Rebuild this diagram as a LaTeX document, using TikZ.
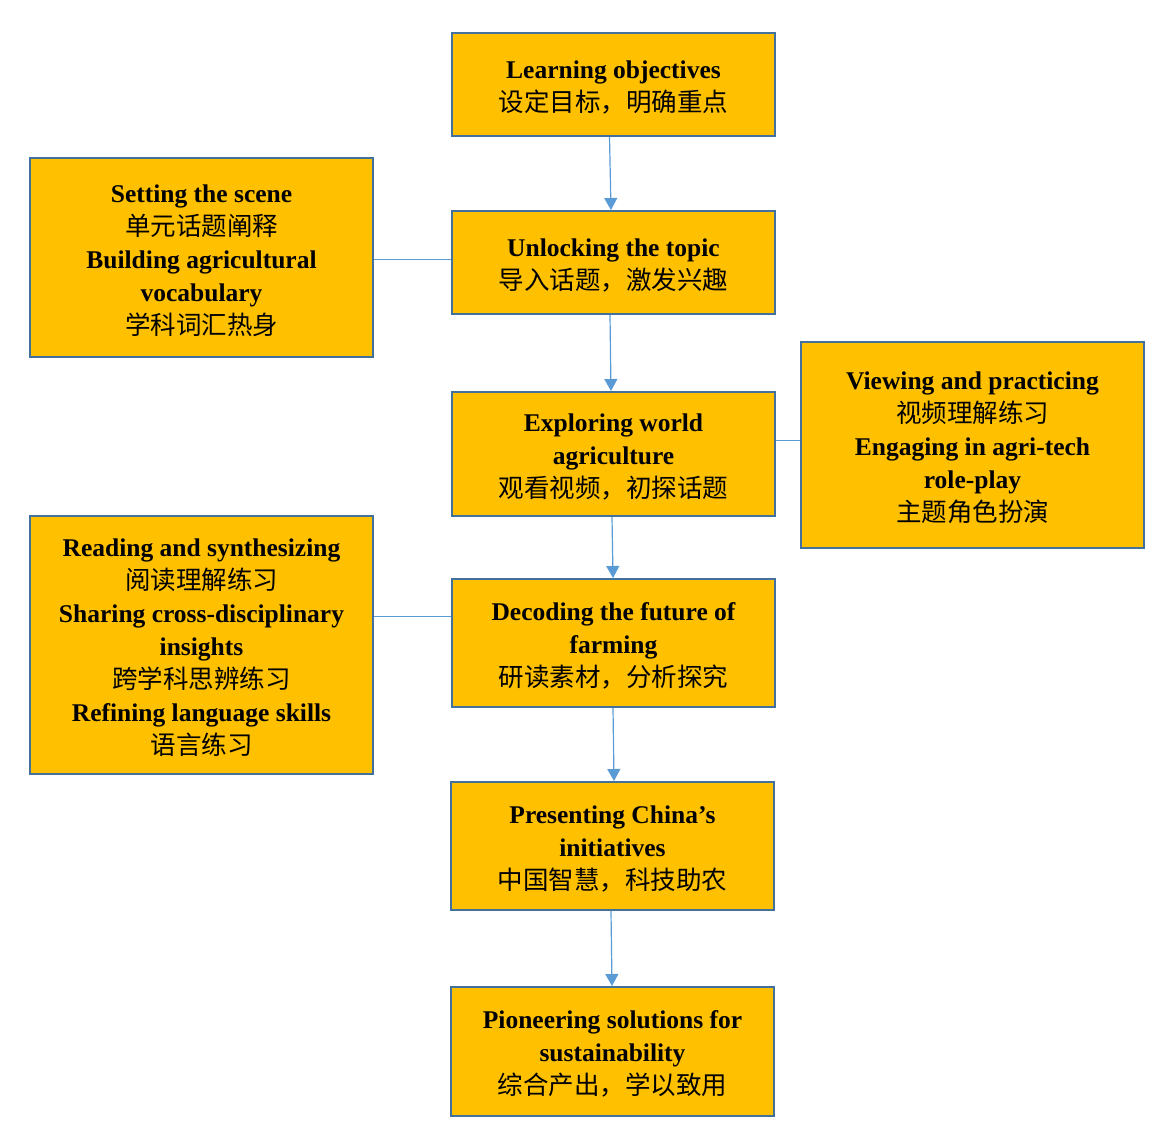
\documentclass[tikz,border=0pt]{standalone}
\usepackage{fontspec}
\setmainfont{Liberation Serif}
\newfontfamily\cjk{Noto Sans CJK SC}
\usetikzlibrary{arrows.meta}
\definecolor{boxfill}{HTML}{FFC000}
\definecolor{boxline}{HTML}{41719C}
\definecolor{conn}{HTML}{5B9BD5}
\newcommand{\en}[1]{{\bfseries #1}}
\newcommand{\enf}[1]{{\bfseries\rule{0pt}{23.5pt}#1}}
\newcommand{\zh}[1]{{\cjk\fontsize{25.5}{33}\selectfont #1}}
\tikzset{
  box/.style={draw=boxline, fill=boxfill, line width=2pt, align=center, inner sep=0pt,
    font=\fontsize{25.5}{33}\selectfont},
  arr/.style={draw=conn, line width=1.2pt, -{Triangle[width=13pt,length=12pt]}},
  link/.style={draw=conn, line width=1pt}
}
\begin{document}
\begin{tikzpicture}[x=1pt,y=-1pt]
\useasboundingbox (0,0) rectangle (1172,1144);
\node[box, minimum width=323pt, minimum height=103pt] (lo) at (613.5,84.5)
  {\enf{Learning objectives}\\\zh{设定目标，明确重点}};
\node[box, minimum width=343pt, minimum height=199pt] (ss) at (201.5,257.5)
  {\enf{Setting the scene}\\\zh{单元话题阐释}\\\en{Building agricultural}\\\en{vocabulary}\\\zh{学科词汇热身}};
\node[box, minimum width=323pt, minimum height=103pt] (ut) at (613.5,262.5)
  {\enf{Unlocking the topic}\\\zh{导入话题，激发兴趣}};
\node[box, minimum width=343pt, minimum height=206pt] (vp) at (972.5,445)
  {\enf{Viewing and practicing}\\\zh{视频理解练习}\\\en{Engaging in agri-tech}\\\en{role-play}\\\zh{主题角色扮演}};
\node[box, minimum width=323pt, minimum height=124pt] (ew) at (613.5,454)
  {\enf{Exploring world}\\\en{agriculture}\\\zh{观看视频，初探话题}};
\node[box, minimum width=343pt, minimum height=258pt] (rs) at (201.5,645)
  {\enf{Reading and synthesizing}\\\zh{阅读理解练习}\\\en{Sharing cross-disciplinary}\\\en{insights}\\\zh{跨学科思辨练习}\\\en{Refining language skills}\\\zh{语言练习}};
\node[box, minimum width=323pt, minimum height=128pt] (df) at (613.5,643)
  {\enf{Decoding the future of}\\\en{farming}\\\zh{研读素材，分析探究}};
\node[box, minimum width=323pt, minimum height=128pt] (pc) at (612.5,846)
  {\enf{Presenting China’s}\\\en{initiatives}\\\zh{中国智慧，科技助农}};
\node[box, minimum width=323pt, minimum height=129pt] (ps) at (612.5,1051.5)
  {\enf{Pioneering solutions for}\\\en{sustainability}\\\zh{综合产出，学以致用}};
% arrows
\draw[arr] ([xshift=-4pt]lo.south) -- ([xshift=-2.5pt]ut.north);
\draw[arr] ([xshift=-3.5pt]ut.south) -- ([xshift=-2.5pt]ew.north);
\draw[arr] ([xshift=-1.5pt]ew.south) -- ([xshift=-0.5pt]df.north);
\draw[arr] ([xshift=-0.5pt]df.south) -- ([xshift=1.5pt]pc.north);
\draw[arr] ([xshift=-1.5pt]pc.south) -- ([xshift=-0.5pt]ps.north);
% side links
\draw[link] ([yshift=-1.5pt]ss.east) -- ([yshift=-1.5pt]ss.east -| ut.west);
\draw[link] ([yshift=5pt]vp.west) -- ([yshift=5pt]vp.west -| ew.east);
\draw[link] ([yshift=29pt]rs.east) -- ([yshift=29pt]rs.east -| df.west);
\end{tikzpicture}
\end{document}
